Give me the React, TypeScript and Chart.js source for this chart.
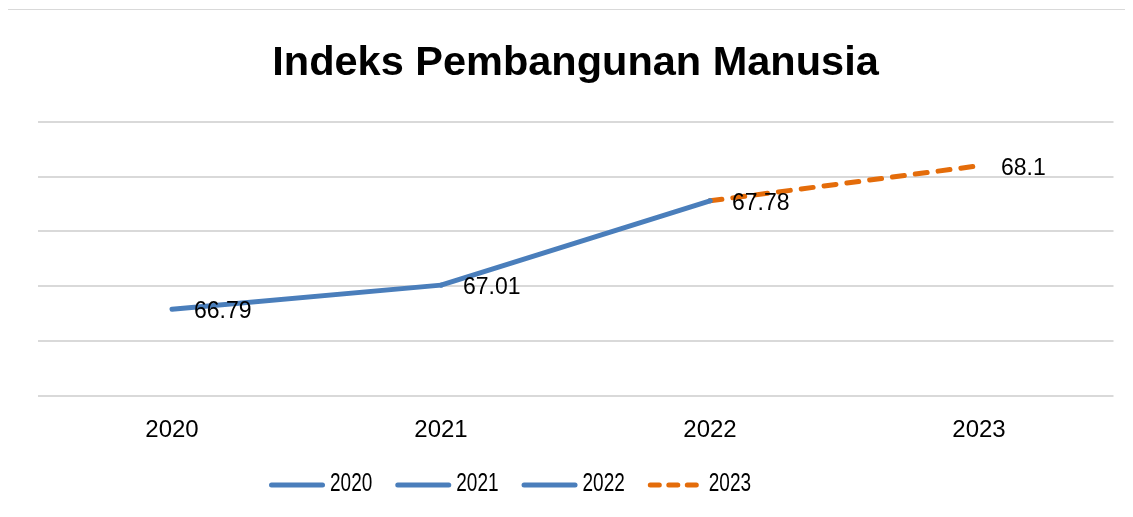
import React, { useEffect, useRef } from "react";
import { Chart, registerables } from "chart.js";

Chart.register(...registerables);

// ---- data ----
const titleText = "Indeks Pembangunan Manusia";
const categories = ["2020", "2021", "2022", "2023"];
const values = [66.79, 67.01, 67.78, 68.1];
const valueLabels = ["66.79", "67.01", "67.78", "68.1"];
const series2020 = [66.79, 67.01, null, null];
const series2021 = [null, 67.01, 67.78, null];
const series2022 = [null, null, 67.78, null];
const series2023 = [null, null, 67.78, 68.1];
const seriesNames = ["2020", "2021", "2022", "2023"];
const yMin = 66;
const yMax = 68.5;
const yStep = 0.5;

const BLUE = "#4A7EBB";
const ORANGE = "#E46C0A";
const GRID = "#D9D9D9";

const overlayPlugin = {
  id: "overlay",
  afterDatasetsDraw(chart: any) {
    const { ctx, chartArea, scales } = chart;
    ctx.save();
    // title
    ctx.font = "bold 41.5px 'Liberation Sans'";
    ctx.fillStyle = "#000";
    ctx.textAlign = "center";
    ctx.textBaseline = "alphabetic";
    ctx.fillText(titleText, (chartArea.left + chartArea.right) / 2, 75);

    // data labels
    ctx.font = "23px 'Liberation Sans'";
    ctx.textAlign = "left";
    ctx.textBaseline = "middle";
    values.forEach((v, i) => {
      const x = scales.x.getPixelForValue(i);
      const y = scales.y.getPixelForValue(v);
      ctx.fillText(valueLabels[i], x + 22, y + 2.5);
    });

    // legend
    const legendY = 485;
    let lx = 269;
    const lineLen = 56;
    const sx = 0.76;
    ctx.font = "25px 'Liberation Sans'";
    chart.data.datasets.forEach((ds: any) => {
      ctx.save();
      ctx.strokeStyle = ds.borderColor;
      ctx.lineWidth = 5;
      ctx.lineCap = "round";
      if (ds.borderDash && ds.borderDash.length) {
        ctx.setLineDash([9, 9.5]);
      } else {
        ctx.setLineDash([]);
      }
      ctx.beginPath();
      ctx.moveTo(lx + 2.5, legendY);
      ctx.lineTo(lx + lineLen - 2.5, legendY);
      ctx.stroke();
      ctx.restore();
      const tx = lx + lineLen + 5;
      ctx.save();
      ctx.translate(tx, legendY - 1);
      ctx.scale(sx, 1);
      ctx.fillStyle = "#000";
      ctx.textAlign = "left";
      ctx.textBaseline = "middle";
      ctx.fillText(ds.label, 0, 0);
      ctx.restore();
      lx = tx + ctx.measureText(ds.label).width * sx + 23;
    });
    ctx.restore();
  },
};

export default function App() {
  const canvasRef = useRef<HTMLCanvasElement | null>(null);

  useEffect(() => {
    if (!canvasRef.current) return;
    const common = {
      borderWidth: 5,
      pointRadius: 0,
      pointHoverRadius: 0,
      tension: 0,
      borderCapStyle: "round" as const,
      borderJoinStyle: "round" as const,
      spanGaps: false,
      fill: false,
    };
    const chart = new Chart(canvasRef.current, {
      type: "line",
      data: {
        labels: categories,
        datasets: [
          { ...common, label: seriesNames[0], data: series2020, borderColor: BLUE, backgroundColor: BLUE },
          { ...common, label: seriesNames[1], data: series2021, borderColor: BLUE, backgroundColor: BLUE },
          { ...common, label: seriesNames[2], data: series2022, borderColor: BLUE, backgroundColor: BLUE },
          {
            ...common,
            label: seriesNames[3],
            data: series2023,
            borderColor: ORANGE,
            backgroundColor: ORANGE,
            borderDash: [12, 11],
          },
        ],
      },
      options: {
        responsive: false,
        devicePixelRatio: 1,
        animation: false,
        layout: { padding: { left: 37.5, right: 19.5, top: 122, bottom: 60.5 } },
        plugins: {
          legend: { display: false },
          title: { display: false },
          tooltip: { enabled: false },
        },
        scales: {
          x: {
            offset: true,
            grid: { display: false },
            border: { display: false },
            ticks: {
              color: "#000",
              padding: 12,
              font: { family: "'Liberation Sans'", size: 24 },
              maxRotation: 0,
            },
          },
          y: {
            min: yMin,
            max: yMax,
            border: { display: false },
            grid: { color: GRID, lineWidth: 2, drawTicks: false },
            ticks: { display: false, stepSize: yStep },
          },
        },
      },
      plugins: [overlayPlugin],
    });
    return () => chart.destroy();
  }, []);

  return (
    <div style={{ position: "relative", margin: -8, width: 1133, height: 517, overflow: "hidden", background: "#fff" }}>
      <div
        style={{
          position: "absolute",
          left: 7,
          top: 9,
          width: 1200,
          height: 600,
          border: "1px solid #D9D9D9",
          boxSizing: "border-box",
        }}
      />
      <canvas
        ref={canvasRef}
        width={1133}
        height={517}
        style={{ position: "absolute", left: 0, top: 0, width: 1133, height: 517 }}
      />
    </div>
  );
}
